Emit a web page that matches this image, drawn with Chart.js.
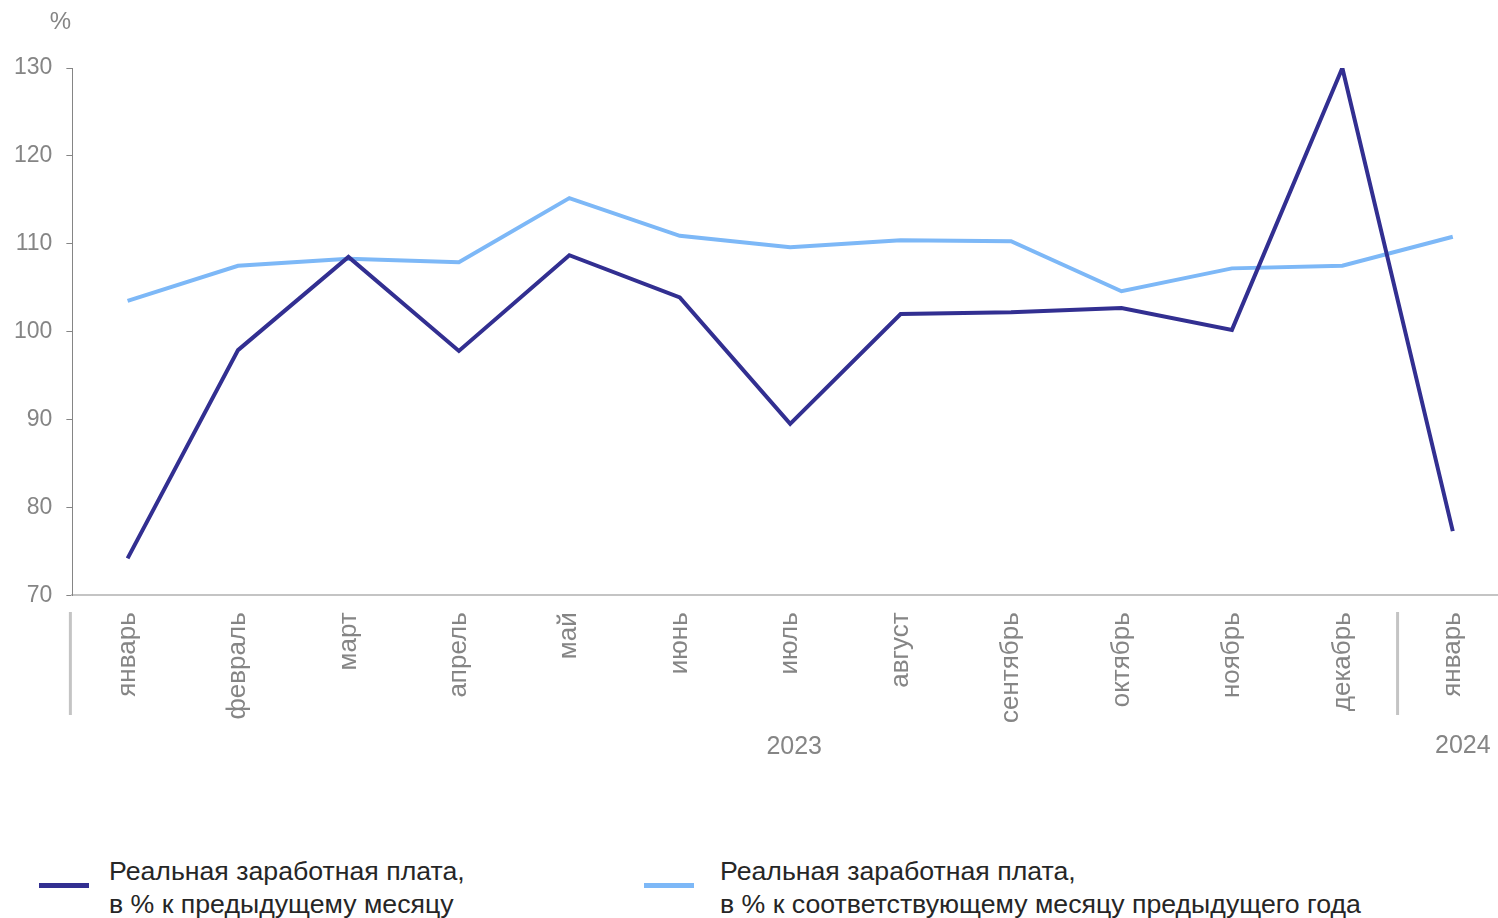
<!DOCTYPE html>
<html>
<head>
<meta charset="utf-8">
<script src="https://cdn.jsdelivr.net/npm/chart.js@4/dist/chart.umd.min.js"></script>
<style>
  body { margin: 0; overflow: hidden; background: #fff; font-family: "Liberation Sans", Arial, sans-serif; }
  #wrap { position: relative; width: 1510px; height: 918px; }
  .leg { position: absolute; top: 855px; font-size: 26.7px; line-height: 33px; color: #262626; white-space: nowrap; }
  .leg .sw { position: absolute; left: -70px; top: 28px; width: 50px; height: 5px; }
</style>
</head>
<body>
<div id="wrap">
  <canvas id="chart1" width="1510" height="830" style="position:absolute;left:0;top:0;width:1510px;height:830px"></canvas>
  <div class="leg" style="left:109px"><span class="sw" style="background:#322f91"></span>Реальная заработная плата,<br>в % к предыдущему месяцу</div>
  <div class="leg" style="left:720px"><span class="sw" style="left:-76px;background:#7db8f7"></span>Реальная заработная плата,<br>в % к соответствующему месяцу предыдущего года</div>
</div>
<script>
var months = ["январь", "февраль", "март", "апрель", "май", "июнь", "июль", "август", "сентябрь", "октябрь", "ноябрь", "декабрь", "январь"];
var prevMonth = [74.2, 97.9, 108.5, 97.8, 108.7, 103.9, 89.5, 102.0, 102.2, 102.7, 100.2, 130.0, 77.3];
var prevYear = [103.5, 107.5, 108.3, 107.9, 115.2, 110.9, 109.6, 110.4, 110.3, 104.6, 107.2, 107.5, 110.8];
var years = ["2023", "2024"];
var yTicks = [70, 80, 90, 100, 110, 120, 130];

var gray = "#858585";

var extras = {
    id: "extras",
    afterDraw: function (chart) {
        var ctx = chart.ctx;
        var x = chart.scales.x;
        var area = chart.chartArea;
        ctx.save();
        // group separators
        ctx.strokeStyle = "#c4c4c4";
        ctx.lineWidth = 3;
        var sepX = [area.left - 2, (x.getPixelForTick(11) + x.getPixelForTick(12)) / 2];
        sepX.forEach(function (sx) {
            ctx.beginPath();
            ctx.moveTo(sx, 612);
            ctx.lineTo(sx, 715);
            ctx.stroke();
        });
        ctx.fillStyle = gray;
        ctx.font = "25px 'Liberation Sans', Arial, sans-serif";
        ctx.textAlign = "center";
        ctx.textBaseline = "middle";
        ctx.fillText(years[0], x.getPixelForTick(6) + 4, 747);
        ctx.fillText(years[1], x.getPixelForTick(12) + 10, 746);
        ctx.font = "24px 'Liberation Sans', Arial, sans-serif";
        ctx.fillText("%", area.left - 12, 22);
        ctx.restore();
    }
};

new Chart(document.getElementById("chart1"), {
    type: "line",
    data: {
        labels: months,
        datasets: [{
            label: "Реальная заработная плата, в % к предыдущему месяцу",
            data: prevMonth,
            borderColor: "#322f91",
            borderWidth: 4,
            pointRadius: 0,
            tension: 0,
            fill: false
        }, {
            label: "Реальная заработная плата, в % к соответствующему месяцу предыдущего года",
            data: prevYear,
            borderColor: "#7db8f7",
            borderWidth: 4,
            pointRadius: 0,
            tension: 0,
            fill: false
        }]
    },
    options: {
        responsive: false,
        animation: false,
        layout: { padding: { top: 68, left: 0, right: 2, bottom: 98 } },
        plugins: { legend: { display: false }, tooltip: { enabled: false } },
        scales: {
            x: {
                offset: true,
                grid: { display: false },
                border: { display: true, color: "#c4c4c4", width: 2 },
                ticks: {
                    color: gray,
                    font: { size: 26, family: "'Liberation Sans', Arial, sans-serif" },
                    minRotation: 90,
                    maxRotation: 90,
                    padding: 9,
                    autoSkip: false
                }
            },
            y: {
                min: 70,
                max: 130,
                afterBuildTicks: function (axis) {
                    axis.ticks = yTicks.map(function (v) { return { value: v }; });
                },
                grid: { drawOnChartArea: false, tickLength: 6, color: gray, tickColor: gray },
                border: { display: true, color: gray, width: 1 },
                ticks: {
                    color: gray,
                    font: { size: 23, family: "'Liberation Sans', Arial, sans-serif" },
                    padding: 14
                }
            }
        }
    },
    plugins: [extras]
});
</script>
</body>
</html>
